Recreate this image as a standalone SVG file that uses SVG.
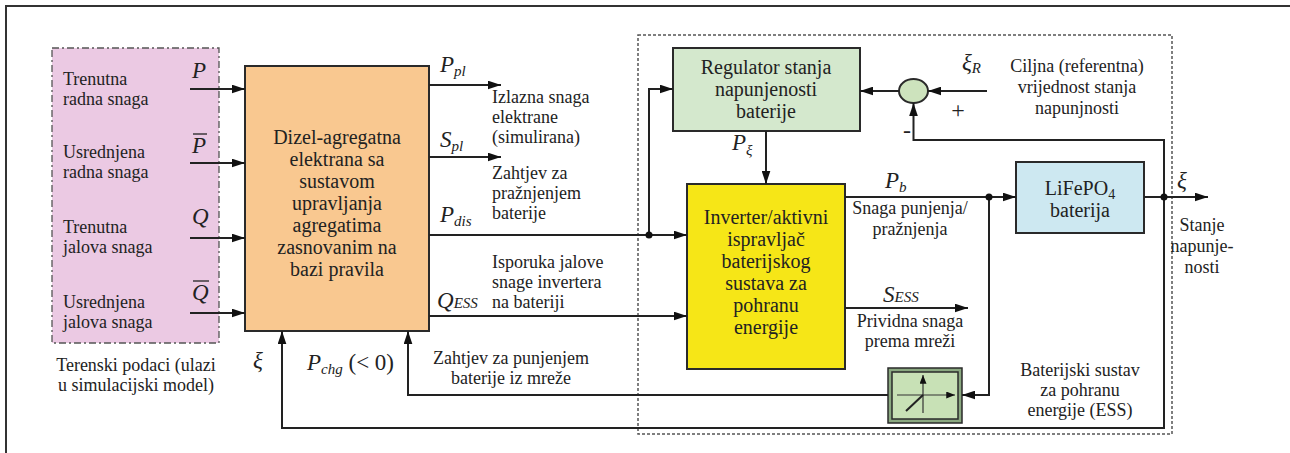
<svg xmlns="http://www.w3.org/2000/svg" width="1290" height="453" viewBox="0 0 1290 453">
<style>
.lbl{font-family:'Liberation Serif','Times New Roman',Tinos,'DejaVu Serif',serif;font-size:18px;fill:#222}
.box{font-family:'Liberation Serif','Times New Roman',Tinos,'DejaVu Serif',serif;font-size:20px;fill:#222;text-anchor:middle}
.sym{font-family:'Liberation Serif','Times New Roman',Tinos,'DejaVu Serif',serif;font-style:italic;font-size:23px;fill:#222}
.sub{font-size:15px}
.c{text-anchor:middle}
.ln{fill:none;stroke:#222;stroke-width:2}
.bx{stroke:#2a2a2a;stroke-width:2}
</style>
<defs>
<marker id="ah" viewBox="0 0 12 8" refX="12" refY="4" markerWidth="13" markerHeight="9" markerUnits="userSpaceOnUse" orient="auto"><path d="M0,0 L12,4 L0,8 z" fill="#111"/></marker>
<marker id="sa" viewBox="0 0 10 8" refX="10" refY="4" markerWidth="9" markerHeight="7" markerUnits="userSpaceOnUse" orient="auto"><path d="M0,0 L10,4 L0,8 z" fill="#111"/></marker>
</defs>
<rect width="1290" height="453" fill="#fff"/>
<path d="M6,453 V6 H1290" fill="none" stroke="#333" stroke-width="2"/>

<g id="field-data">
<rect x="52" y="48" width="167" height="295" fill="#ebc9e3" stroke="#555" stroke-width="1.3" stroke-dasharray="7 3 2 3"/>
<text class="lbl" x="63" y="85">Trenutna<tspan x="63" dy="20">radna snaga</tspan></text>
<text class="lbl" x="63" y="158">Usrednjena<tspan x="63" dy="20">radna snaga</tspan></text>
<text class="lbl" x="63" y="233">Trenutna<tspan x="63" dy="20">jalova snaga</tspan></text>
<text class="lbl" x="63" y="308">Usrednjena<tspan x="63" dy="20">jalova snaga</tspan></text>
<text class="sym" x="192" y="78">P</text>
<text class="sym" x="192" y="153">P</text><line x1="193" y1="134" x2="207" y2="134" stroke="#222" stroke-width="1.3"/>
<text class="sym" x="192" y="224">Q</text>
<text class="sym" x="192" y="300">Q</text><line x1="193" y1="281" x2="209" y2="281" stroke="#222" stroke-width="1.3"/>
<text class="lbl c" x="136" y="371">Terenski podaci (ulazi<tspan x="136" dy="20">u simulacijski model)</tspan></text>
</g>

<g id="diesel-plant">
<rect class="bx" x="245" y="66" width="184" height="265" fill="#f9c890"/>
<text class="box" x="337" y="144">Dizel-agregatna<tspan x="337" dy="22">elektrana sa</tspan><tspan x="337" dy="22">sustavom</tspan><tspan x="337" dy="22">upravljanja</tspan><tspan x="337" dy="22">agregatima</tspan><tspan x="337" dy="22">zasnovanim na</tspan><tspan x="337" dy="22">bazi pravila</tspan></text>
</g>

<g id="ess-boundary">
<rect x="638" y="35" width="534" height="399" fill="none" stroke="#555" stroke-width="1.5" stroke-dasharray="3 2"/>
<text class="lbl c" x="1080" y="376">Baterijski sustav<tspan x="1080" dy="20">za pohranu</tspan><tspan x="1080" dy="20">energije (ESS)</tspan></text>
</g>

<g id="soc-regulator">
<rect class="bx" x="673" y="48" width="187" height="83" fill="#d4e8cd"/>
<text class="box" x="766" y="74">Regulator stanja<tspan x="766" dy="22">napunjenosti</tspan><tspan x="766" dy="22">baterije</tspan></text>
</g>

<g id="sum">
<ellipse cx="913.5" cy="91" rx="14.5" ry="12" fill="#cde3bd" stroke="#2a2a2a" stroke-width="2"/>
<text class="lbl c" x="958" y="118" style="font-size:24px">+</text>
<text class="lbl c" x="907" y="138" style="font-size:24px">-</text>
</g>

<g id="inverter">
<rect class="bx" x="687" y="184" width="158" height="185" fill="#f6e617"/>
<text class="box" x="766" y="224">Inverter/aktivni<tspan x="766" dy="22">ispravljač</tspan><tspan x="766" dy="22">baterijskog</tspan><tspan x="766" dy="22">sustava za</tspan><tspan x="766" dy="22">pohranu</tspan><tspan x="766" dy="22">energije</tspan></text>
</g>

<g id="battery">
<rect class="bx" x="1016" y="162" width="128" height="71" fill="#cde8f1"/>
<text class="box" x="1080" y="195">LiFePO<tspan font-size="14" dy="4">4</tspan><tspan x="1080" dy="18">baterija</tspan></text>
</g>

<g id="limiter">
<rect x="888" y="368" width="74" height="55" fill="#8aa880" stroke="#2a2a2a" stroke-width="1.5"/>
<rect x="892" y="372" width="66" height="47" fill="#c8e1b6" stroke="#2a2a2a" stroke-width="1.5"/>
<line x1="923" y1="413" x2="923" y2="375" stroke="#333" stroke-width="1.2" marker-end="url(#sa)"/>
<line x1="897" y1="395" x2="955" y2="395" stroke="#333" stroke-width="1.2" marker-end="url(#sa)"/>
<line x1="906" y1="411" x2="923" y2="395" stroke="#222" stroke-width="2"/>
</g>

<g id="connectors">
<line class="ln" x1="190" y1="89" x2="245" y2="89" marker-end="url(#ah)"/>
<line class="ln" x1="190" y1="163" x2="245" y2="163" marker-end="url(#ah)"/>
<line class="ln" x1="190" y1="238" x2="245" y2="238" marker-end="url(#ah)"/>
<line class="ln" x1="190" y1="313" x2="245" y2="313" marker-end="url(#ah)"/>
<line class="ln" x1="429" y1="85" x2="501" y2="85" marker-end="url(#ah)"/>
<line class="ln" x1="429" y1="157" x2="501" y2="157" marker-end="url(#ah)"/>
<line class="ln" x1="429" y1="235" x2="687" y2="235" marker-end="url(#ah)"/>
<path class="ln" d="M649,235 V89 H673" marker-end="url(#ah)"/>
<line class="ln" x1="429" y1="316" x2="687" y2="316" marker-end="url(#ah)"/>
<line class="ln" x1="766" y1="131" x2="766" y2="184" marker-end="url(#ah)"/>
<line class="ln" x1="845" y1="197" x2="1016" y2="197" marker-end="url(#ah)"/>
<line class="ln" x1="1144" y1="197" x2="1208" y2="197" marker-end="url(#ah)"/>
<line class="ln" x1="845" y1="308" x2="968" y2="308" marker-end="url(#ah)"/>
<path class="ln" d="M989,197 V395 H962" marker-end="url(#ah)"/>
<path class="ln" d="M888,395 H408 V331" marker-end="url(#ah)"/>
<path class="ln" d="M1164,197 V428 H282 V331" marker-end="url(#ah)"/>
<path class="ln" d="M1164,197 V140 H913.5 V103" marker-end="url(#ah)"/>
<line class="ln" x1="987" y1="91" x2="928" y2="91" marker-end="url(#ah)"/>
<line class="ln" x1="899" y1="91" x2="860" y2="91" marker-end="url(#ah)"/>
<circle cx="649" cy="235" r="3.5" fill="#111"/>
<circle cx="989" cy="197" r="3.5" fill="#111"/>
<circle cx="1164" cy="197" r="3.5" fill="#111"/>
</g>

<g id="connector-labels">
<text class="sym" x="440" y="72">P<tspan class="sub" dy="4">pl</tspan></text>
<text class="lbl" x="492" y="103">Izlazna snaga<tspan x="492" dy="20">elektrane</tspan><tspan x="492" dy="20">(simulirana)</tspan></text>
<text class="sym" x="440" y="147">S<tspan class="sub" dy="4">pl</tspan></text>
<text class="lbl" x="492" y="179">Zahtjev za<tspan x="492" dy="20">pražnjenjem</tspan><tspan x="492" dy="20">baterije</tspan></text>
<text class="sym" x="440" y="222">P<tspan class="sub" dy="4">dis</tspan></text>
<text class="lbl" x="492" y="268">Isporuka jalove<tspan x="492" dy="20">snage invertera</tspan><tspan x="492" dy="20">na bateriji</tspan></text>
<text class="sym" x="437" y="308">Q<tspan class="sub" font-size="17">ESS</tspan></text>
<text class="lbl c" x="511" y="364">Zahtjev za punjenjem<tspan x="511" dy="20">baterije iz mreže</tspan></text>
<text class="sym" x="307" y="370">P<tspan class="sub" dy="4">chg</tspan><tspan dy="-4" font-style="normal"> (&lt; 0)</tspan></text>
<text class="sym" x="253" y="368">ξ</text>
<text class="sym" x="732" y="150">P<tspan class="sub" dy="5">ξ</tspan></text>
<text class="sym" x="962" y="70">ξ<tspan class="sub" dy="3" font-size="17">R</tspan></text>
<text class="lbl c" x="1077" y="72">Ciljna (referentna)<tspan x="1077" dy="21">vrijednost stanja</tspan><tspan x="1077" dy="21">napunjnosti</tspan></text>
<text class="sym" x="885" y="188">P<tspan class="sub" dy="4">b</tspan></text>
<text class="lbl c" x="910" y="214">Snaga punjenja/<tspan x="910" dy="21">pražnjenja</tspan></text>
<text class="sym" x="883" y="302">S<tspan class="sub" font-size="17">ESS</tspan></text>
<text class="lbl c" x="910" y="327">Prividna snaga<tspan x="910" dy="20">prema mreži</tspan></text>
<text class="sym" x="1177" y="188">ξ</text>
<text class="lbl c" x="1202" y="231">Stanje<tspan x="1202" dy="21">napunje-</tspan><tspan x="1202" dy="21">nosti</tspan></text>
</g>
</svg>
